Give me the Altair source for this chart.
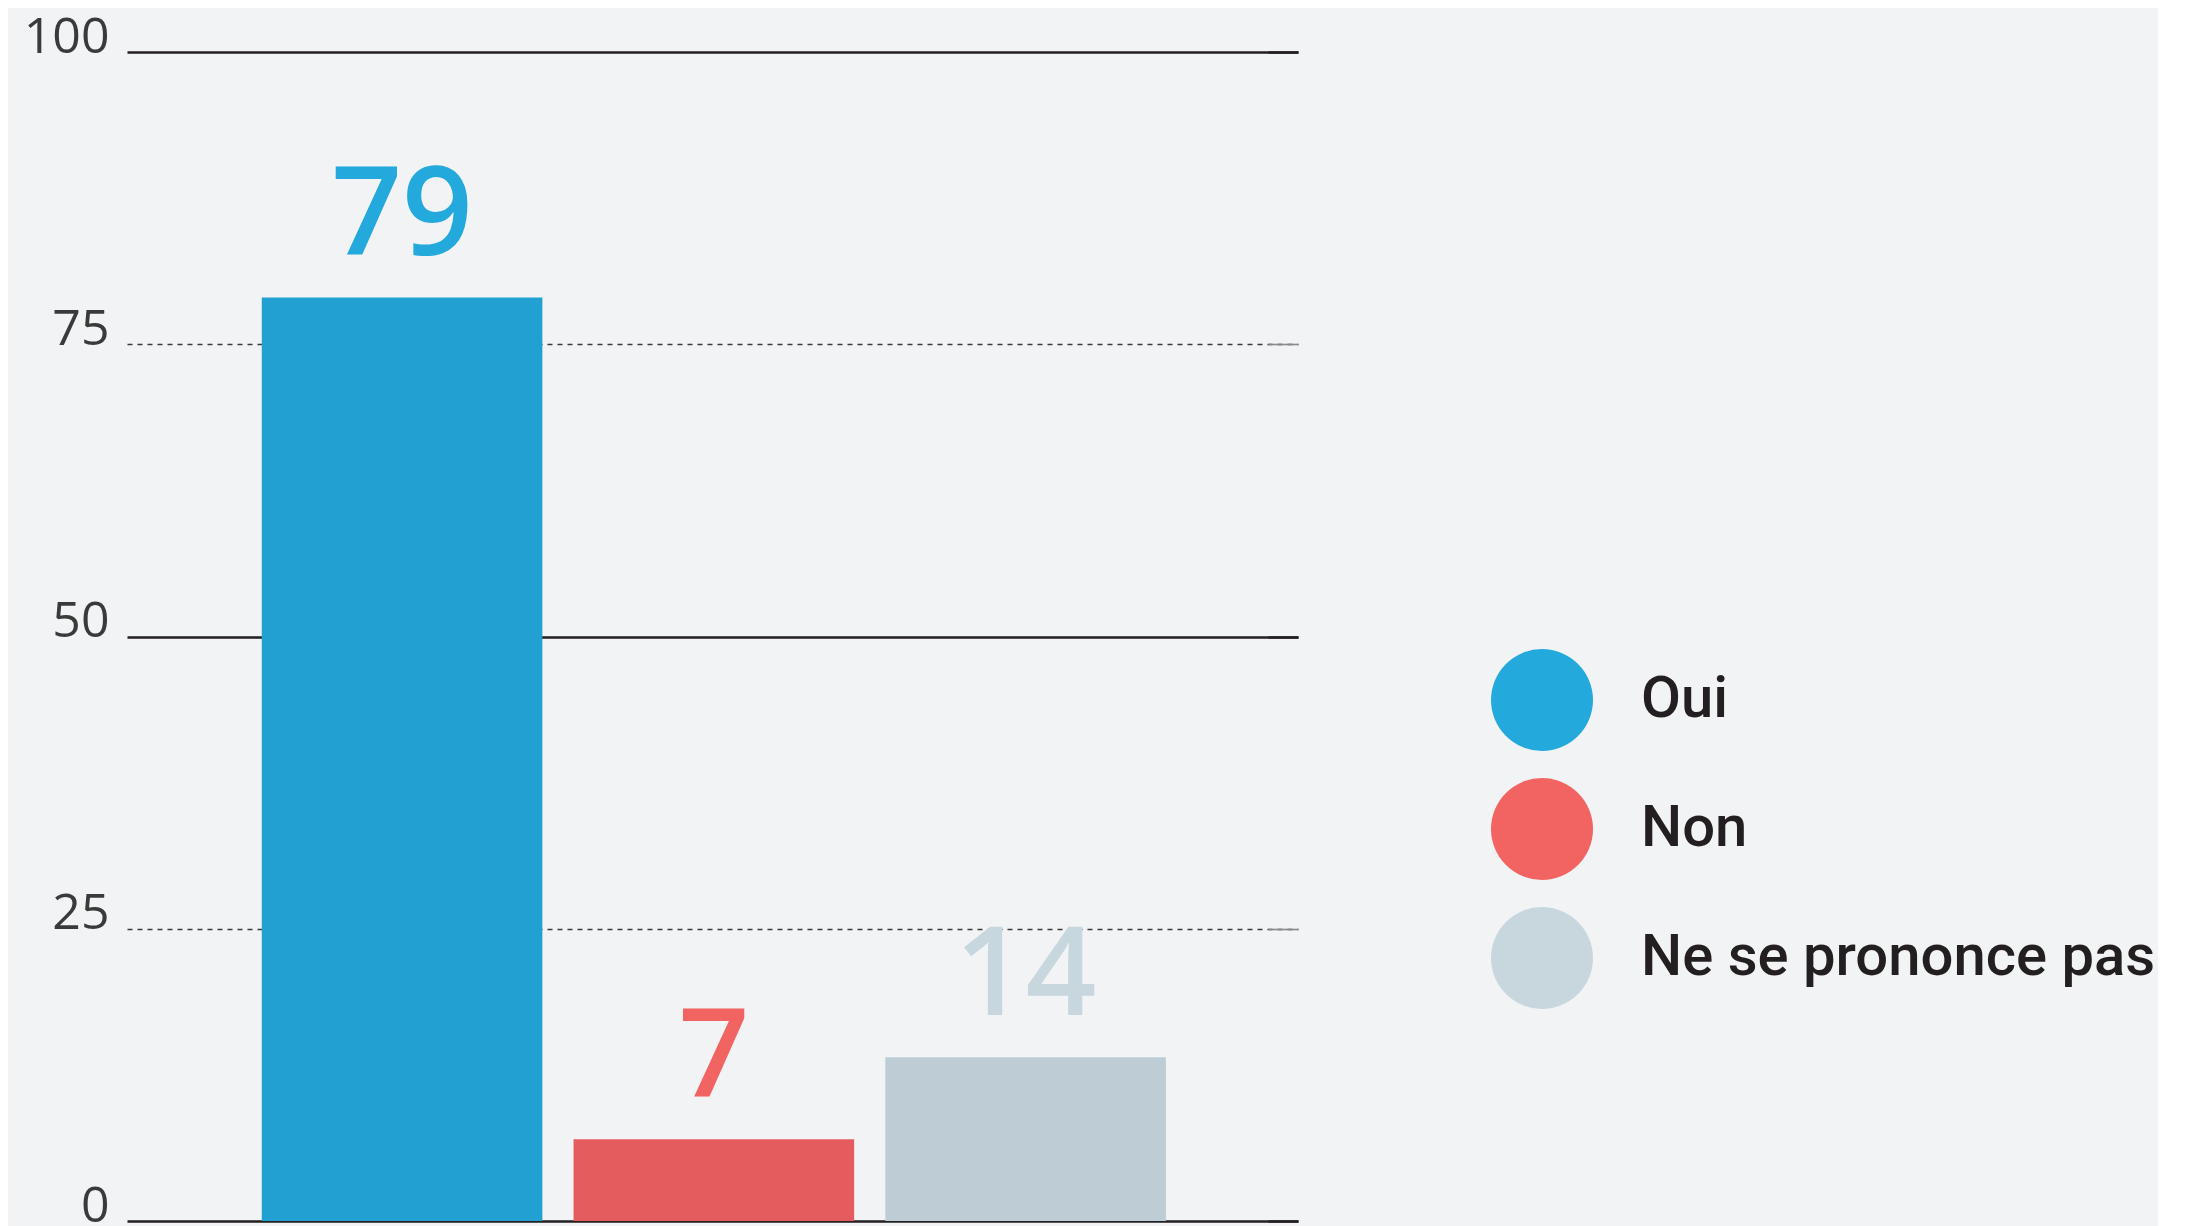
import altair as alt
import pandas as pd

categories = ["Oui", "Non", "Ne se prononce pas"]
values = [79, 7, 14]
bar_colors = ["#22A0D2", "#E45C5E", "#BDCCD5"]
label_colors = ["#24A9DD", "#F26462", "#C8D7DE"]
y_ticks = [0, 25, 50, 75, 100]

df = pd.DataFrame({"cat": categories, "value": values})

x_enc = alt.X("cat:N", sort=categories, axis=None,
              scale=alt.Scale(paddingInner=0.1, paddingOuter=0.428, align=0.505))

major = "datum.value % 50 === 0"

left_axis = alt.Axis(
    values=y_ticks, orient="left", title=None, domain=False, ticks=False,
    grid=True,
    gridColor={"condition": {"test": major, "value": "#231F20"}, "value": "#3a3a3a"},
    gridDash={"condition": {"test": major, "value": [1, 0]}, "value": [5, 5]},
    gridWidth={"condition": {"test": major, "value": 2.4}, "value": 1.3},
    labelFont="Open Sans", labelFontSize=50, labelFontWeight=400,
    labelColor="#3a3a3a", labelPadding=18, labelBaseline="alphabetic",
)

right_axis = alt.Axis(
    values=y_ticks, orient="right", title=None, domain=False, labels=False,
    grid=False, ticks=True, tickSize=30, offset=-30,
    tickColor={"condition": {"test": major, "value": "#231F20"}, "value": "#8a8a8a"},
    tickWidth={"condition": {"test": major, "value": 2.4}, "value": 1.6},
)

bars = alt.Chart(df).mark_bar().encode(
    x=x_enc,
    y=alt.Y("value:Q", scale=alt.Scale(domain=[0, 100]), axis=left_axis),
    fill=alt.Fill("cat:N", scale=alt.Scale(domain=categories, range=bar_colors), legend=None),
)

labels = alt.Chart(df).mark_text(
    baseline="alphabetic", dy=-42, font="Open Sans", fontSize=124, fontWeight=600
).encode(
    x=x_enc,
    y=alt.Y("value:Q", scale=alt.Scale(domain=[0, 100]), axis=right_axis),
    text=alt.Text("value:Q"),
    color=alt.Color(
        "cat:N", sort=categories,
        scale=alt.Scale(domain=categories, range=label_colors),
        legend=alt.Legend(
            title=None, orient="none", legendX=1364, legendY=597,
            symbolType="circle", symbolSize=10404, symbolStrokeWidth=0,
            symbolOpacity=1,
            labelFont="Roboto", labelFontSize=58, labelFontWeight=500,
            labelColor="#231F20", labelOffset=48, rowPadding=27,
            labelLimit=0, padding=0,
        ),
    ),
)

chart = alt.layer(bars, labels).resolve_scale(
    color="independent"
).resolve_axis(
    y="independent"
).properties(
    width=1171, height=1169,
    padding={"left": 119, "top": 44, "right": 860, "bottom": 5},
    autosize=alt.AutoSizeParams(type="none"),
    background="#F2F3F5",
).configure_view(stroke=None)

chart.save("out.html", embed_options={"renderer": "svg", "actions": False})
